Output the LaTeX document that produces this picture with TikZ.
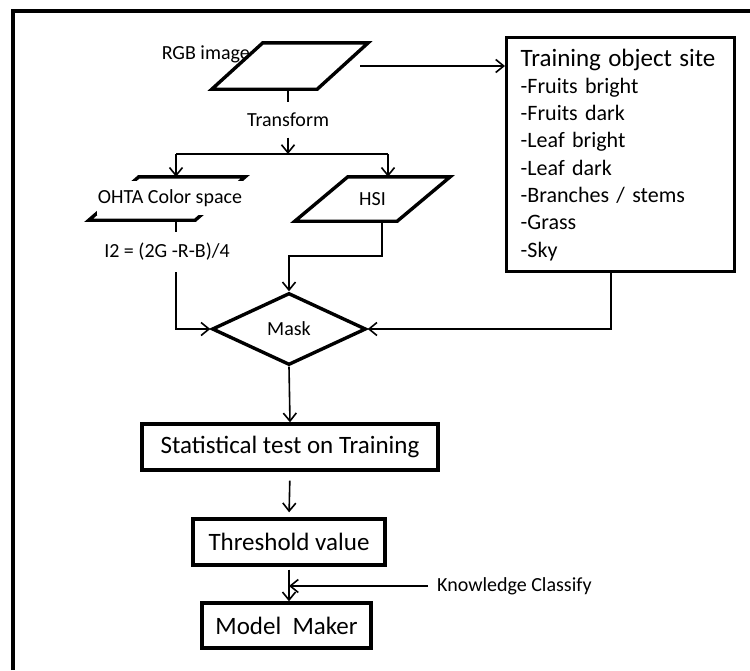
\documentclass[tikz,border=0pt]{standalone}
\usepackage{fontspec}
\setmainfont{Carlito}
\usetikzlibrary{positioning,arrows.meta,calc,shapes.geometric}
\newcommand{\bigtext}{\fontsize{25pt}{30pt}\selectfont}
\newcommand{\listtext}{\fontsize{22pt}{27.3pt}\selectfont}
\newcommand{\smalltext}{\fontsize{20pt}{24pt}\selectfont}
\tikzset{
  flow/.style={-{Straight Barb[length=8pt,width=13pt]},line width=1.6pt,draw=black},
  plainline/.style={line width=1.6pt,draw=black},
  frameline/.style={line width=3.6pt,draw=black},
  shapeline/.style={line width=3.4pt,draw=black,line join=miter},
  box/.style={draw,line width=3.4pt,rectangle,inner sep=0pt,align=center,font=\bigtext},
  iobox/.style={rectangle,inner sep=0pt,font=\smalltext},
  decision/.style={draw,line width=3.4pt,diamond,inner sep=0pt,font=\smalltext},
  tag/.style={inner sep=0pt,font=\smalltext}
}

\begin{document}
\begin{tikzpicture}[x=1pt,y=-1pt]
  \useasboundingbox (0,0) rectangle (750,670);
  \draw[frameline] (13,670) -- (13,11) -- (750,11);

  % inputs
  \node[iobox,minimum width=156pt,minimum height=46pt] (rgb) at (290,66) {};
  \draw[shapeline] ($(rgb.north west)+(51,0)$) -- (rgb.north east)
    -- ($(rgb.south east)+(-51,0)$) -- (rgb.south west) -- cycle;
  \node[tag,anchor=east] (rgblabel) at (250,54) {RGB image};
  \node[tag,inner ysep=10.5pt] (transform) at (288,120) {Transform};
  \coordinate (split) at (288,154);
  \coordinate (lefttap) at (176,154);
  \coordinate (righttap) at (388,154);
  \node[iobox,minimum width=156pt,minimum height=43pt] (ohta) at (167,198.5) {};
  \draw[shapeline] ($(ohta.north west)+(50,0)$) -- (ohta.north east)
    -- ($(ohta.south east)+(-50,0)$) -- (ohta.south west) -- cycle;
  \node[tag,fill=white,inner xsep=1pt,minimum height=34pt] (ohtalabel) at (170,198) {OHTA Color space};
  \node[tag,minimum height=40pt] (gray) at (167,252) {I2 = (2G -R-B)/4};
  \node[iobox,minimum width=155pt,minimum height=44pt] (hsi) at (372.5,199) {HSI};
  \draw[shapeline] ($(hsi.north west)+(53,0)$) -- (hsi.north east)
    -- ($(hsi.south east)+(-53,0)$) -- (hsi.south west) -- cycle;
  \coordinate (hsitap) at (382,256);

  % training sites
  \node[box,font=\listtext,align=left,text width=200pt,inner xsep=14pt,
    minimum height=234pt,anchor=north west] (train) at (505,36)
    {{\bigtext Training object site}\\-Fruits bright\\-Fruits dark\\-Leaf bright\\
     -Leaf dark\\-Branches / stems\\-Grass\\-Sky};

  % main chain
  \node[decision,minimum width=154pt,minimum height=72pt] (mask) at (289,329) {Mask};
  \node[box,minimum width=296pt,minimum height=46pt] (stat) at (290,447) {Statistical test on Training};
  \node[box,minimum width=192pt,minimum height=46pt] (thresh) at (289,542) {Threshold value};
  \node[box,minimum width=169pt,minimum height=45pt] (model) at (286.5,625.5) {Model~~Maker};
  \node[tag,anchor=west] (know) at (437,586) {Knowledge Classify};

  \draw[flow] ([xshift=-8pt]rgb.east) -- (rgb.east -| train.west);
  \draw[plainline] (transform.north |- rgb.south) -- (transform.north);
  \draw[flow] (transform.south) -- (split);
  \draw[plainline] (lefttap) -- (righttap);
  \draw[flow] (lefttap) -- (lefttap |- ohta.north);
  \draw[flow] (righttap) -- (righttap |- hsi.north);
  \draw[plainline] (lefttap |- ohta.south) -- (lefttap |- gray.north);
  \draw[flow] (lefttap |- gray.south) |- (mask.west);
  \draw[flow] (hsitap |- hsi.south) -- (hsitap) -| (mask.north);
  \draw[flow] ([xshift=-10pt]train.south) |- (mask.east);
  \draw[flow] (mask.south) -- (stat.north);
  \draw[flow,shorten <=9pt,shorten >=5pt] (stat.south) -- (thresh.north);
  \draw[flow,shorten <=3pt] (thresh.south) -- (thresh.south |- model.north);
  \draw[flow,shorten <=9pt] (know.west) -- (know.west -| thresh.south);
\end{tikzpicture}
\end{document}
